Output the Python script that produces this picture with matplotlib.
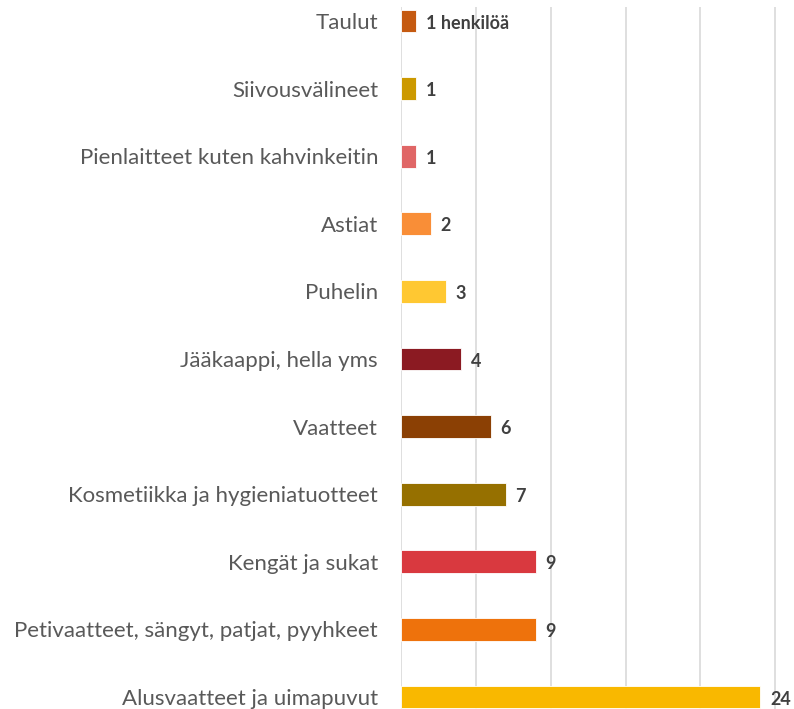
import matplotlib.pyplot as plt

categories = ['Taulut', 'Siivousvälineet', 'Pienlaitteet kuten kahvinkeitin', 'Astiat',
              'Puhelin', 'Jääkaappi, hella yms', 'Vaatteet',
              'Kosmetiikka ja hygieniatuotteet', 'Kengät ja sukat',
              'Petivaatteet, sängyt, patjat, pyyhkeet', 'Alusvaatteet ja uimapuvut']
values = [1, 1, 1, 2, 3, 4, 6, 7, 9, 9, 24]
value_labels = ['1 henkilöä', '1', '1', '2', '3', '4', '6', '7', '9', '9', '24']
colors = ['#C55A11', '#CC9900', '#E06666', '#F98E37', '#FFC832', '#8B1A22',
          '#8B4004', '#967000', '#D9393F', '#EE720C', '#F9B800']

plt.rcParams['font.family'] = ['Lato', 'DejaVu Sans']

W, H = 794, 709
fig = plt.figure(figsize=(W / 100, H / 100), dpi=100)

# axes placed in pixel terms: zero line at x=401, 15 px per unit, rows 67.6 px apart
x0, px_unit = 401, 14.97
xmax = 26
y_top_px, row0_px, pitch = 7, 21, 67.6
ytop = -(row0_px - y_top_px) / pitch
ybot = 10.6
bot_px = row0_px + pitch * ybot
ax = fig.add_axes([x0 / W, (H - bot_px) / H, xmax * px_unit / W, (bot_px - y_top_px) / H])

pos = list(range(len(categories)))
ax.barh(pos, values, height=0.34, color=colors, edgecolor='white', linewidth=0.6, zorder=3)
ax.set_ylim(ybot, ytop)
ax.set_xlim(0, xmax)

for y, v, lab in zip(pos, values, value_labels):
    ax.text(v + 0.65, y + 0.03, lab, va='center', ha='left', fontsize=13,
            fontweight='bold', color='#404040', zorder=4)

ax.set_yticks(pos)
ax.set_yticklabels(categories, fontsize=16, color='#595959')
ax.tick_params(axis='y', length=0, pad=16.5)
ax.set_xticks([0, 5, 10, 15, 20, 25])
ax.tick_params(axis='x', length=0, labelbottom=False)
ax.grid(axis='x', color='#D9D9D9', linewidth=1.2, zorder=0)
for s in ax.spines.values():
    s.set_visible(False)

fig.savefig('out.png', dpi=100)
